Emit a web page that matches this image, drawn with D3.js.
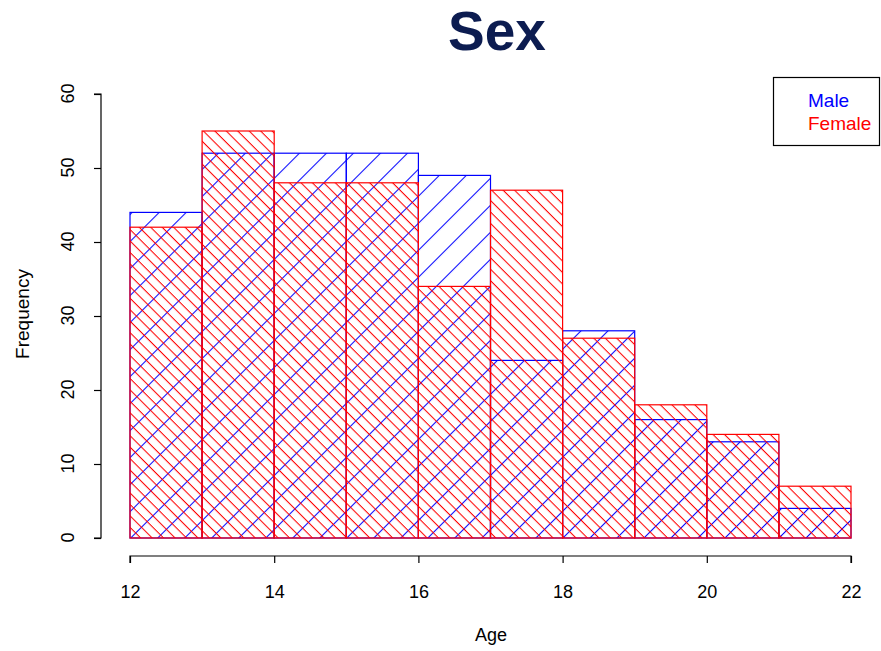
<!DOCTYPE html>
<html>
<head>
<meta charset="utf-8">
<script src="https://cdn.jsdelivr.net/npm/d3@7"></script>
<style>
  body { margin: 0; background: #fff; }
  text { font-family: "Liberation Sans", Arial, sans-serif; }
</style>
</head>
<body>
<div id="chart"></div>
<script>
// histogram bins (age breaks) and counts per sex
const breaks = [12, 13, 14, 15, 16, 17, 18, 19, 20, 21, 22];
const male = [44, 52, 52, 52, 49, 24, 28, 16, 13, 4];
const female = [42, 55, 48, 48, 34, 47, 27, 18, 14, 7];
const xTicks = [12, 14, 16, 18, 20, 22];
const yTicks = [0, 10, 20, 30, 40, 50, 60];
const legendLabels = ["Male", "Female"];

const width = 881, height = 651;

const xScale = d3.scaleLinear().domain([12, 22]).range([130, 851]);
const yScale = d3.scaleLinear().domain([0, 60]).range([538, 94]);

const svg = d3.select("#chart").append("svg")
  .attr("width", width)
  .attr("height", height);

// hatch patterns (R style density lines)
const defs = svg.append("defs");
function hatch(id, color, gap, angle) {
  const p = defs.append("pattern")
    .attr("id", id)
    .attr("patternUnits", "userSpaceOnUse")
    .attr("width", gap)
    .attr("height", gap)
    .attr("x", 130).attr("y", 538)
    .attr("patternTransform", `rotate(${angle} 130 538)`);
  p.append("line")
    .attr("x1", 0).attr("x2", gap)
    .attr("y1", 0.5).attr("y2", 0.5)
    .attr("stroke", color)
    .attr("stroke-width", 1.1);
}
hatch("hMale", "#0000ff", 19.1, -45);
hatch("hFemale", "#ff0000", 8.1, 45);

function drawBars(data, cls, color, pat) {
  svg.selectAll("rect." + cls)
    .data(data)
    .join("rect")
    .attr("class", cls)
    .attr("x", (d, i) => xScale(breaks[i]))
    .attr("y", d => yScale(d))
    .attr("width", (d, i) => xScale(breaks[i + 1]) - xScale(breaks[i]))
    .attr("height", d => yScale(0) - yScale(d))
    .attr("fill", `url(#${pat})`)
    .attr("stroke", color)
    .attr("stroke-width", 1.2);
}
drawBars(male, "male", "#0000ff", "hMale");
drawBars(female, "female", "#ff0000", "hFemale");

// x axis
const xAxis = svg.append("g")
  .attr("transform", "translate(0,556)")
  .call(d3.axisBottom(xScale).tickValues(xTicks).tickSize(7).tickPadding(22));
xAxis.select(".domain").attr("d", `M${xScale(12)},7V0H${xScale(22)}V7`);

// y axis
const yAxis = svg.append("g")
  .attr("transform", "translate(101,0)")
  .call(d3.axisLeft(yScale).tickValues(yTicks).tickSize(7).tickPadding(10));
yAxis.select(".domain").attr("d", `M-7,${yScale(0)}H0V${yScale(60)}H-7`);
yAxis.selectAll(".tick text")
  .attr("x", 0)
  .attr("y", 0)
  .attr("dy", null)
  .attr("text-anchor", "middle")
  .attr("transform", "translate(-33,-1) rotate(-90)")
  .attr("dominant-baseline", "central");

svg.selectAll(".tick text")
  .style("font-size", "18px")
  .style("font-family", "Liberation Sans, Arial, sans-serif")
  .attr("fill", "#000");
svg.selectAll(".domain, .tick line").attr("stroke", "#000").attr("stroke-width", 1.2);

// labels
svg.append("text")
  .attr("x", 491).attr("y", 641)
  .attr("text-anchor", "middle")
  .style("font-size", "18px")
  .text("Age");

svg.append("text")
  .attr("transform", "translate(29,314) rotate(-90)")
  .attr("text-anchor", "middle")
  .style("font-size", "19px")
  .text("Frequency");

svg.append("text")
  .attr("x", 497).attr("y", 50)
  .attr("text-anchor", "middle")
  .style("font-size", "55px")
  .style("font-weight", "bold")
  .attr("fill", "#0c1c50")
  .text("Sex");

// legend
const legend = svg.append("g");
legend.append("rect")
  .attr("x", 773.5).attr("y", 77.5)
  .attr("width", 106).attr("height", 68)
  .attr("fill", "none")
  .attr("stroke", "#000")
  .attr("stroke-width", 1.2);
legend.selectAll("text")
  .data(legendLabels)
  .join("text")
  .attr("x", 808)
  .attr("y", (d, i) => 107 + i * 23)
  .style("font-size", "19px")
  .attr("fill", (d, i) => i === 0 ? "#0000ff" : "#ff0000")
  .text(d => d);
</script>
</body>
</html>
